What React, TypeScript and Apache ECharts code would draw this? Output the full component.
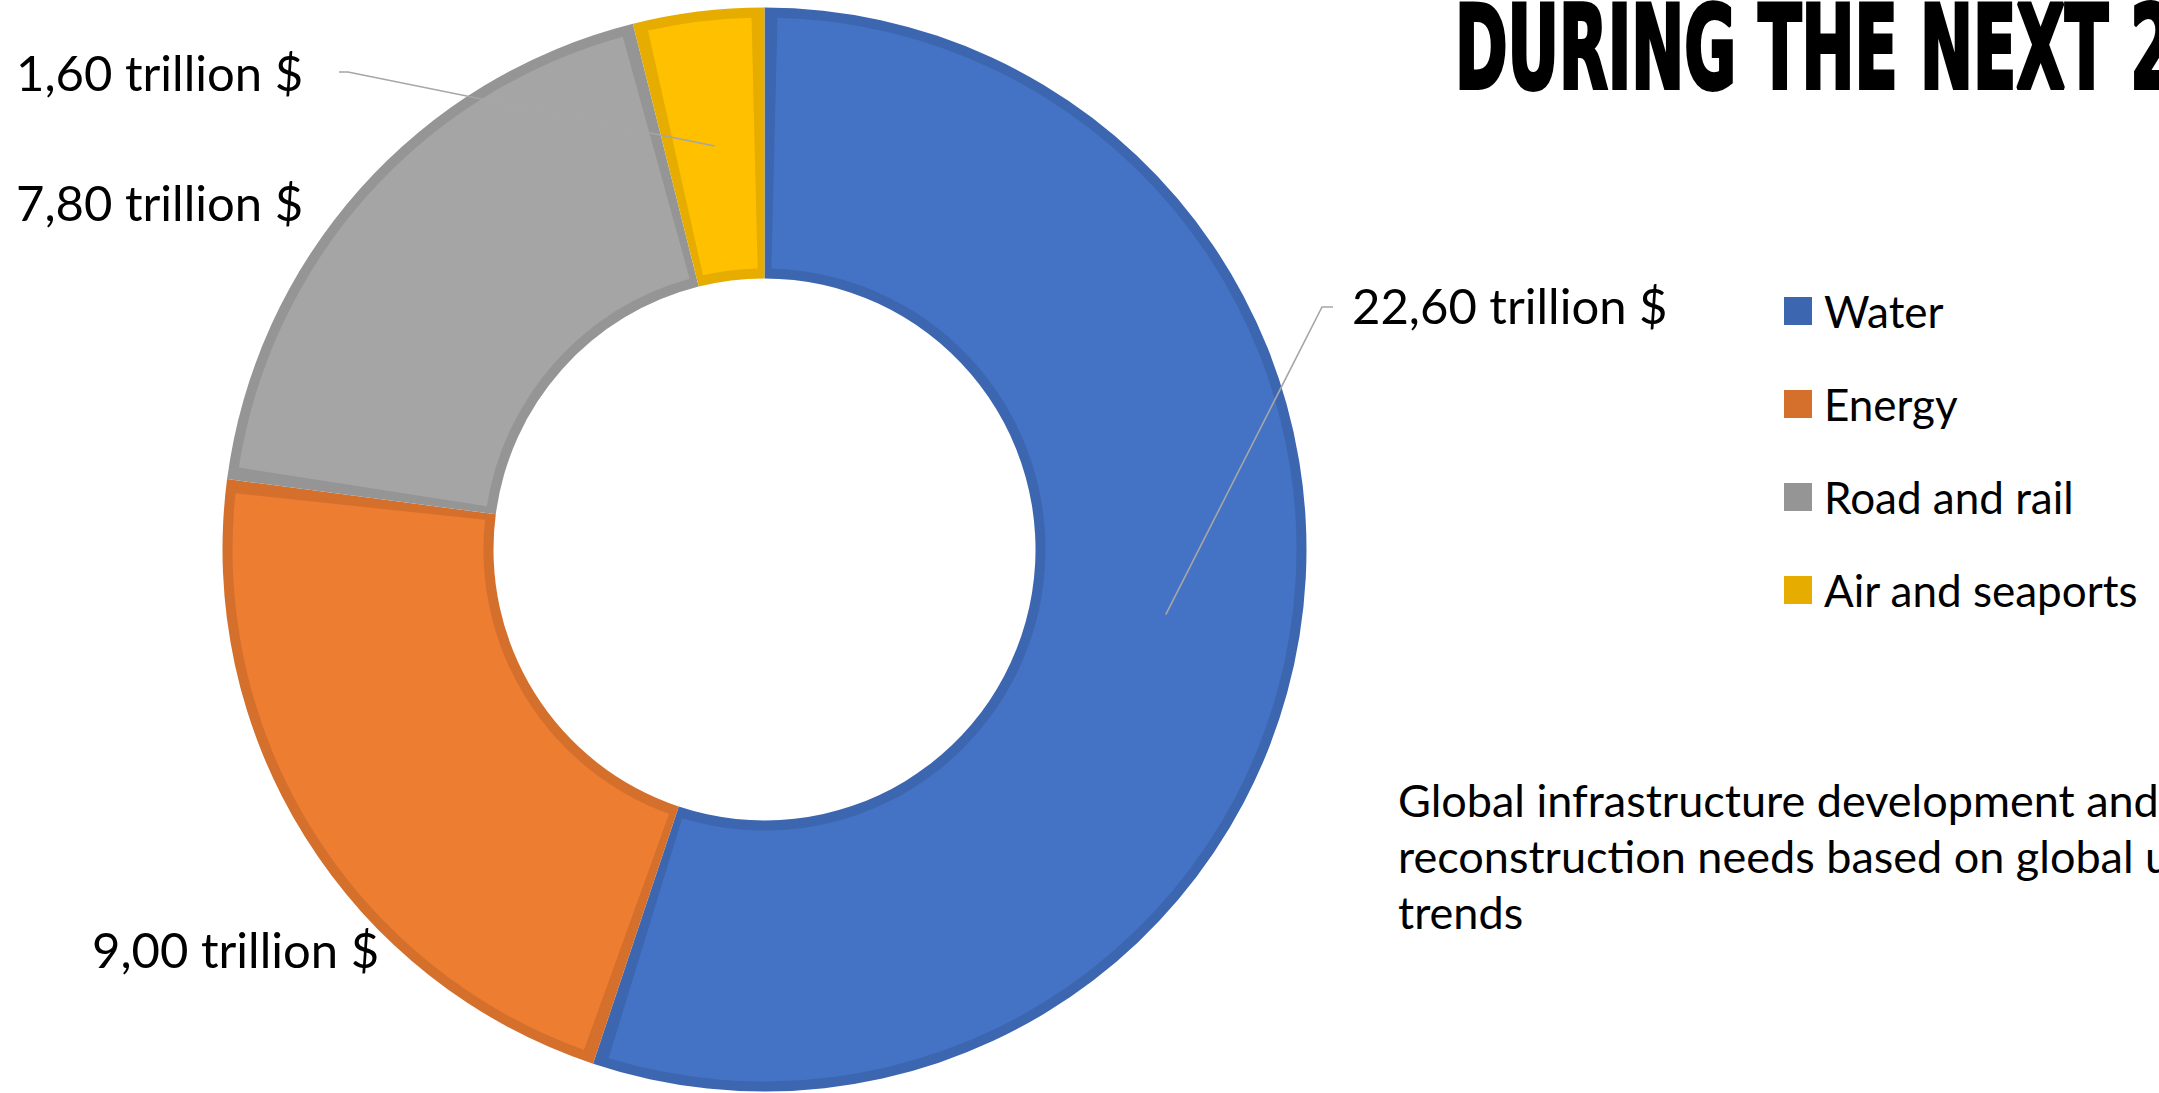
import React, { useEffect, useRef } from "react";
import * as echarts from "echarts";

// ---- data ----
const CATEGORIES = ["Water", "Energy", "Road and rail", "Air and seaports"];
const VALUES = [22.6, 9.0, 7.8, 1.6];
const UNIT = "trillion $";
const TITLE = "DURING THE NEXT 2";
const SUBTITLE_LINES = [
  "Global infrastructure development and",
  "reconstruction needs based on global u",
  "trends",
];

// ---- styles ----
const FILL_COLORS = ["#4472C4", "#ED7D31", "#A5A5A5", "#FFC000"];
const EDGE_COLORS = ["#3D66B0", "#D56F2C", "#959595", "#E6AD00"];

// ---- layout ----
const W = 2159;
const H = 1093;
const CX = 764.5;
const CY = 549.5;
const R_OUT = 542;
const R_IN = 271;
const EDGE = 10;
// label anchor (left, vertical middle) and optional leader line (elbow x, y, end x)
const LABEL_LAYOUT: { x: number; y: number; line: number[] | null }[] = [
  { x: 1352, y: 305, line: [1322, 307, 1333] },
  { x: 92, y: 949, line: null },
  { x: 16, y: 202, line: null },
  { x: 16, y: 72, line: [348, 72, 339] },
];

const fmt = (v: number) => v.toFixed(2).replace(".", ",") + " " + UNIT;

export default function App() {
  const ref = useRef<HTMLDivElement>(null);

  useEffect(() => {
    if (!ref.current) return;
    const chart = echarts.init(ref.current, undefined, { renderer: "svg" });

    // fit condensed heavy title to the reference width
    const titleFont = '"DejaVu Sans Condensed", "DejaVu Sans", sans-serif';
    const titleSize = 116;
    let scaleX = 0.6;
    try {
      const ctx = document.createElement("canvas").getContext("2d");
      if (ctx) {
        ctx.font = `bold ${titleSize}px ${titleFont}`;
        const w = ctx.measureText("DURING THE NEXT ").width;
        if (w > 0) scaleX = 675 / w;
      }
    } catch (e) {}

    const option: any = {
      animation: false,
      backgroundColor: "#ffffff",
      legend: {
        orient: "vertical",
        left: 1784,
        top: 289,
        padding: 0,
        itemWidth: 28,
        itemHeight: 28,
        itemGap: 49,
        icon: "rect",
        selectedMode: false,
        data: CATEGORIES,
        textStyle: {
          fontFamily: "Lato",
          fontSize: 44,
          lineHeight: 44,
          color: "#000",
          padding: [0, 0, 0, 7],
        },
      },
      graphic: [
        {
          type: "text",
          x: 1455,
          y: 48,
          scaleX: scaleX,
          style: {
            text: TITLE,
            fontFamily: titleFont,
            fontWeight: "bold",
            fontSize: titleSize,
            fill: "#000",
            stroke: "#000",
            lineWidth: 4,
            align: "left",
            verticalAlign: "middle",
          },
        },
        {
          type: "text",
          x: 1398,
          y: 772,
          style: {
            text: SUBTITLE_LINES.join("\n"),
            fontFamily: "Lato",
            fontSize: 45,
            lineHeight: 56,
            fill: "#000",
            align: "left",
            verticalAlign: "top",
          },
        },
      ],
      series: [
        {
          type: "pie",
          name: "edge",
          center: [CX, CY],
          radius: [R_IN, R_OUT],
          startAngle: 90,
          clockwise: true,
          silent: true,
          label: { show: false },
          labelLine: { show: false },
          data: CATEGORIES.map((n, i) => ({
            name: n,
            value: VALUES[i],
            itemStyle: { color: EDGE_COLORS[i] },
          })),
        },
        {
          type: "pie",
          name: "fill",
          center: [CX, CY],
          radius: [R_IN + EDGE, R_OUT - EDGE],
          startAngle: 90,
          clockwise: true,
          padAngle: 2.8,
          silent: true,
          label: { show: false },
          labelLine: { show: false },
          data: CATEGORIES.map((n, i) => ({
            name: n,
            value: VALUES[i],
            itemStyle: { color: FILL_COLORS[i] },
          })),
        },
        {
          type: "pie",
          name: "labels",
          z: 5,
          center: [CX, CY],
          radius: [R_IN, (R_IN + R_OUT) / 2],
          startAngle: 90,
          clockwise: true,
          silent: true,
          avoidLabelOverlap: false,
          itemStyle: { color: "rgba(0,0,0,0)" },
          label: {
            show: true,
            position: "outside",
            formatter: (p: any) => fmt(p.value),
            fontFamily: "Lato",
            fontSize: 49,
            color: "#000",
          },
          labelLine: {
            show: true,
            length: 10,
            length2: 10,
            lineStyle: { color: "#A6A6A6", width: 1.6 },
          },
          labelLayout: (params: any) => {
            const L = LABEL_LAYOUT[params.dataIndex];
            const res: any = { x: L.x, y: L.y, align: "left", verticalAlign: "middle" };
            if (L.line && params.labelLinePoints) {
              const p0 = params.labelLinePoints[0];
              res.labelLinePoints = [
                p0,
                [L.line[0], L.line[1]],
                [L.line[2], L.line[1]],
              ];
            }
            return res;
          },
          data: CATEGORIES.map((n, i) => ({
            name: n,
            value: VALUES[i],
            labelLine: { show: !!LABEL_LAYOUT[i].line },
          })),
        },
      ],
    };

    chart.setOption(option);
    return () => chart.dispose();
  }, []);

  return (
    <div
      ref={ref}
      style={{ position: "absolute", left: 0, top: 0, width: W, height: H }}
    />
  );
}
